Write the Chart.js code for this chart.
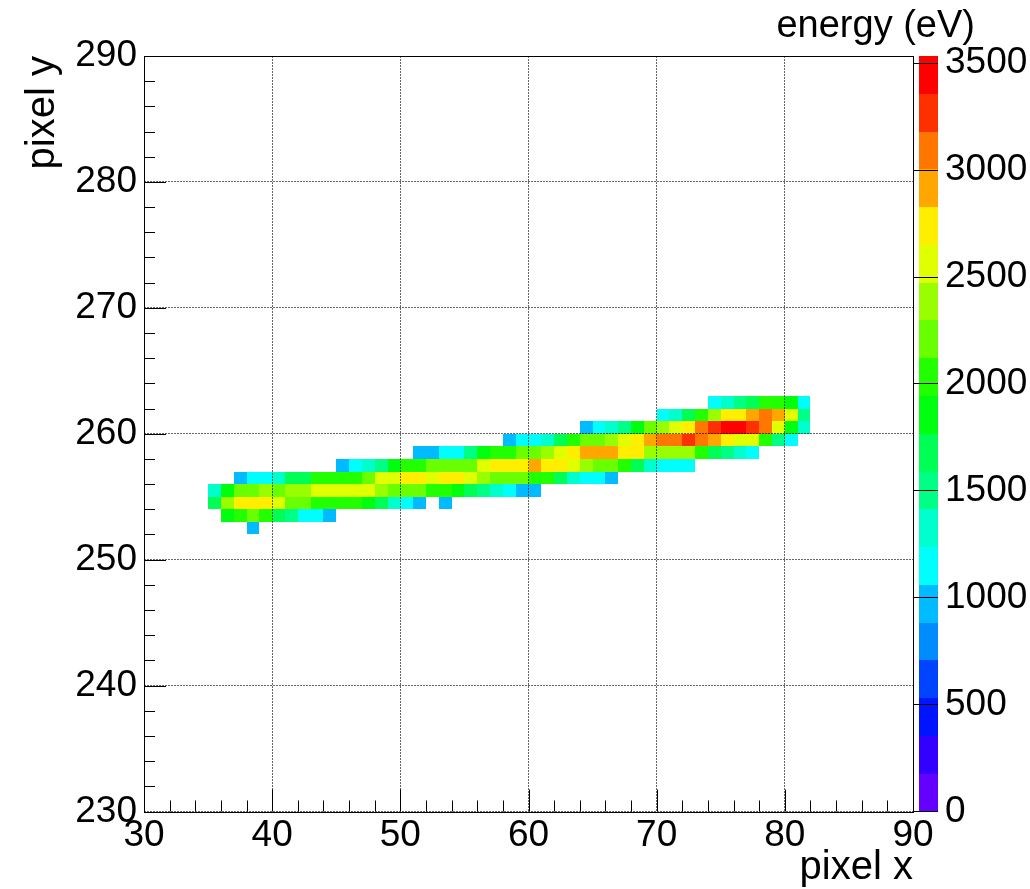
<!DOCTYPE html>
<html>
<head>
<meta charset="utf-8">
<title>pixel energy map</title>
<script src="https://cdn.jsdelivr.net/npm/chart.js@4.4.1/dist/chart.umd.min.js"></script>
<style>
  html, body { margin: 0; padding: 0; background: #fff; }
  #wrap { width: 1030px; height: 889px; }
</style>
</head>
<body>
<div id="wrap"><canvas id="myChart"></canvas></div>
<script>
// energy (eV) per pixel, one list per y row, first entry sits at column xFirst
var yRows  = [252, 253, 254, 255, 256, 257, 258, 259, 260, 261, 262];
var xFirst = [38, 36, 35, 35, 37, 45, 51, 58, 64, 70, 74];
var energy = [
    [962],
    [1862, 2045, 2231, 2018, 1684, 1497, 1130, 1165, 978],
    [1702, 2391, 2718, 2766, 2695, 2553, 2198, 2240, 2061, 2012, 1987, 2079, 1851, 1664, 1318, 1124, 957, null, 1003],
    [1349, 1890, 2204, 2262, 2381, 2177, 2420, 2356, 2581, 2527, 2612, 2495, 2560, 2409, 2245, 2188, 2136, 2090, 1996, 1812, 1633, 1471, 1296, 1152, 1026, 943],
    [990, 1113, 1201, 1372, 1620, 1701, 2003, 2057, 1978, 2110, 2253, 2540, 2607, 2702, 2781, 2588, 2743, 2690, 2514, 2352, 2271, 2219, 2160, 2049, 1961, 1645, 1287, 1176, 1089, 1012],
    [1021, 1094, 1330, 1528, 1905, 2024, 2086, 2143, 2215, 2288, 2170, 2602, 2684, 2731, 2799, 2921, 2760, 2713, 2531, 2437, 2255, 2182, 1993, 1702, 1350, 1147, 1203, 1078],
    [1008, 971, 1142, 1095, 1488, 1834, 2040, 1970, 2232, 2174, 2398, 2617, 2748, 2890, 2957, 2866, 2779, 2672, 2441, 2379, 2330, 2422, 2081, 1711, 1534, 1382, 1120],
    [951, 1116, 1188, 1340, 1667, 2066, 2161, 2246, 2413, 2598, 2770, 2948, 3071, 3126, 3262, 3043, 2893, 2735, 2623, 2566, 2011, 1509, 1158],
    [1035, 1172, 1305, 1452, 1880, 2209, 2346, 2575, 2809, 3117, 3301, 3465, 3534, 3228, 3154, 2637, 1919, 1363],
    [1135, 1290, 1658, 2108, 2452, 2705, 2657, 2975, 3048, 2912, 2544, 1557],
    [1107, 1401, 1569, 1739, 2095, 1956, 1795, 1081]
];

var xTicks = [30, 40, 50, 60, 70, 80, 90];
var yTicks = [230, 240, 250, 260, 270, 280, 290];
var zTicks = [0, 500, 1000, 1500, 2000, 2500, 3000, 3500];

var xTitle = 'pixel x';
var yTitle = 'pixel y';
var zTitle = 'energy (eV)';

var nLevels = 20;
var FONT = '"Liberation Sans", Arial, sans-serif';

cells = [];
for (r = 0; r < yRows.length; r++) {
    for (i = 0; i < energy[r].length; i++) {
        if (energy[r][i] !== null) {
            cells.push({ x: xFirst[r] + i + 0.5, y: yRows[r] + 0.5, e: energy[r][i] });
        }
    }
}
var zMax = Math.max.apply(null, cells.map(function (c) { return c.e; }));

// old ROOT "pretty" palette: 50 hues from violet to red, 20 contour levels
function levelColor(k) {
    var idx = Math.floor((k + 0.99) * 50 / nLevels);
    var hue = 280 - (idx + 1) * 280 / 50;
    return 'hsl(' + hue.toFixed(1) + ',100%,50%)';
}
function colorFor(e) {
    var k = Math.floor(e / (zMax / nLevels));
    if (k > nLevels - 1) k = nLevels - 1;
    return levelColor(k);
}

function setTicks(list) {
    return function (scale) {
        scale.ticks = list.map(function (v) { return { value: v }; });
    };
}

const heatmap = {
    id: 'heatmap',
    beforeDraw: function (chart) {
        var ctx = chart.ctx, xs = chart.scales.x, ys = chart.scales.y, zs = chart.scales.z;
        ctx.save();
        // colour cells
        chart.data.datasets[0].data.forEach(function (c) {
            var x0 = Math.round(xs.getPixelForValue(c.x - 0.5));
            var x1 = Math.round(xs.getPixelForValue(c.x + 0.5));
            var y0 = Math.round(ys.getPixelForValue(c.y + 0.5));
            var y1 = Math.round(ys.getPixelForValue(c.y - 0.5));
            ctx.fillStyle = colorFor(c.e);
            ctx.fillRect(x0, y0, x1 - x0, y1 - y0);
        });
        // palette bar
        var step = zMax / nLevels;
        for (k = 0; k < nLevels; k++) {
            var top = Math.round(zs.getPixelForValue((k + 1) * step));
            var bot = Math.round(zs.getPixelForValue(k * step));
            ctx.fillStyle = levelColor(k);
            ctx.fillRect(zs.left + 6, top, 19, bot - top);
        }
        ctx.restore();
    },
    afterDraw: function (chart) {
        var ctx = chart.ctx, xs = chart.scales.x, ys = chart.scales.y;
        var a = chart.chartArea;
        ctx.save();
        ctx.strokeStyle = '#000';
        ctx.lineWidth = 1;
        ctx.beginPath();
        // inner tick marks, major every 10, minor every 2
        for (t = xTicks[0]; t <= xTicks[xTicks.length - 1]; t += 2) {
            var px = Math.round(xs.getPixelForValue(t)) + 0.5;
            var len = (t % 10 === 0) ? 22 : 11;
            ctx.moveTo(px, a.bottom);
            ctx.lineTo(px, a.bottom - len);
        }
        for (t = yTicks[0]; t <= yTicks[yTicks.length - 1]; t += 2) {
            var py = Math.round(ys.getPixelForValue(t)) + 0.5;
            var len2 = (t % 10 === 0) ? 22 : 11;
            ctx.moveTo(a.left, py);
            ctx.lineTo(a.left + len2, py);
        }
        ctx.stroke();
        ctx.strokeRect(Math.round(a.left) + 0.5, Math.round(a.top) + 0.5,
                       Math.round(a.right - a.left), Math.round(a.bottom - a.top));

        ctx.fillStyle = '#000';
        ctx.textAlign = 'right';
        ctx.textBaseline = 'alphabetic';
        ctx.font = '38px ' + FONT;
        ctx.fillText(zTitle, 975, 37);
        ctx.font = '40px ' + FONT;
        ctx.fillText(xTitle, a.right, 879);
        ctx.translate(54, a.top);
        ctx.rotate(-Math.PI / 2);
        ctx.fillText(yTitle, 0, 0);
        ctx.restore();
    }
};

const ctx = document.getElementById('myChart');
const myChart = new Chart(ctx, {
    type: 'scatter',
    data: {
        datasets: [{
            label: zTitle,
            data: cells,
            pointRadius: 0,
            pointHoverRadius: 0
        }]
    },
    options: {
        responsive: true,
        maintainAspectRatio: false,
        animation: false,
        events: [],
        layout: { padding: { top: 56, left: 0, right: 0, bottom: 0 } },
        plugins: {
            legend: { display: false },
            tooltip: { enabled: false }
        },
        scales: {
            x: {
                type: 'linear',
                min: xTicks[0],
                max: xTicks[xTicks.length - 1],
                afterBuildTicks: setTicks(xTicks),
                afterFit: function (scale) { scale.height = 77.5; },
                grid: { color: 'rgba(0,0,0,0.6)', lineWidth: 1, drawTicks: false },
                border: { display: false, dash: [2, 1] },
                ticks: {
                    color: '#000', font: { size: 37, family: FONT }, padding: 2,
                    maxRotation: 0, autoSkip: false,
                    callback: function (v) { return String(v); }
                }
            },
            y: {
                type: 'linear',
                min: yTicks[0],
                max: yTicks[yTicks.length - 1],
                afterBuildTicks: setTicks(yTicks),
                afterFit: function (scale) { scale.width = 144; },
                grid: { color: 'rgba(0,0,0,0.6)', lineWidth: 1, drawTicks: false },
                border: { display: false, dash: [2, 1] },
                ticks: {
                    color: '#000', font: { size: 37, family: FONT }, padding: 7,
                    autoSkip: false,
                    callback: function (v) { return String(v); }
                }
            },
            z: {
                type: 'linear',
                position: 'right',
                min: 0,
                max: zMax,
                afterBuildTicks: setTicks(zTicks),
                afterFit: function (scale) { scale.width = 117; },
                grid: { drawOnChartArea: false, drawTicks: true, tickLength: 25, color: '#000', lineWidth: 1 },
                border: { display: false },
                ticks: {
                    color: '#000', font: { size: 37, family: FONT }, padding: 7,
                    autoSkip: false,
                    callback: function (v) { return String(v); }
                }
            }
        }
    },
    plugins: [heatmap]
});
</script>
</body>
</html>
